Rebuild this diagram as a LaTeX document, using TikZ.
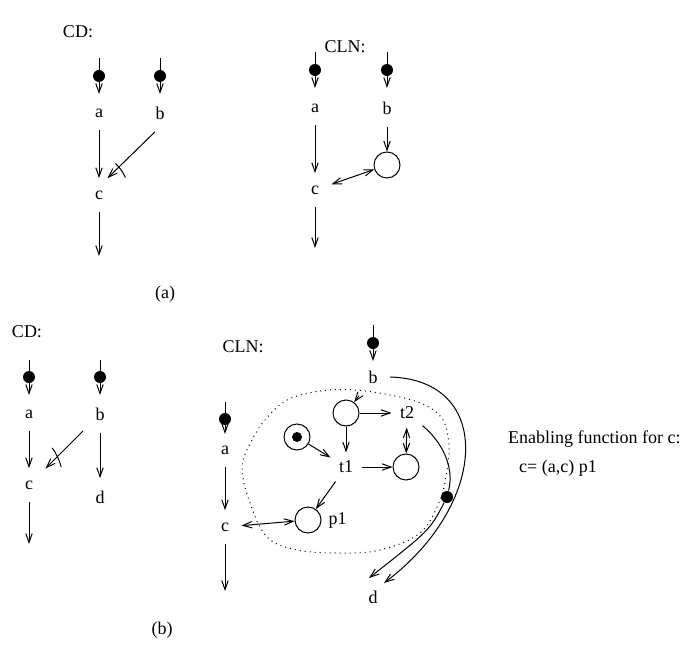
\documentclass[tikz,border=0pt]{standalone}
\usepackage{fontspec}
\setmainfont{Liberation Serif}
\usetikzlibrary{arrows.meta}
\usetikzlibrary{positioning}

\begin{document}
\begin{tikzpicture}[x=0.5pt,y=-0.5pt,>={Straight Barb[length=4.5pt,width=3.2pt]},line width=0.5pt,
  font=\fontsize{9}{10}\selectfont,
  lbl/.style={inner sep=6pt},
  trans/.style={inner sep=4pt},
  tok/.style={circle,fill,inner sep=0pt,minimum size=6pt},
  place/.style={circle,draw,inner sep=0pt,minimum size=13pt}]
\useasboundingbox (0,0) rectangle (688,657);
% (a) CD
\path node (cd1) at (78,32) {CD:};
\coordinate (ka0) at (99,58); \coordinate (ka1) at (99,94);
\coordinate (kb0) at (160,58); \coordinate (kb1) at (160,94);
\path[->,draw] (ka0) -- (ka1);
\path[->,draw] (kb0) -- (kb1);
\path node[tok] (ka) at (99,76) {};
\path node[tok] (kb) at (160,76) {};
\path node[lbl] (a1) at (99,113) {a};
\path node[lbl] (b1) at (160,113) {b};
\path node[lbl] (c1) at (99,195) {c};
\coordinate (ce1) at (99,256);
\path[->] (a1) edge (c1) (c1) edge (ce1);
\path[->,draw] ([xshift=-2.5pt]b1.south) -- coordinate[pos=.77] (x1) ([xshift=-4pt]c1.north east);
\draw (x1) ++(-3,-4) to[bend left=10] ++(10,14);
% (a) CLN
\path node (cln1) at (345,47) {CLN:};
\coordinate (la0) at (315,52); \coordinate (la1) at (315,88);
\coordinate (lb0) at (387,52); \coordinate (lb1) at (387,88);
\path[->,draw] (la0) -- (la1);
\path[->,draw] (lb0) -- (lb1);
\path node[tok] (la) at (315,70) {};
\path node[tok] (lb) at (387,70) {};
\path node[lbl] (a2) at (315,108) {a};
\path node[lbl] (b2) at (387,108) {b};
\path node[lbl] (c2) at (315,190) {c};
\path node[place] (q0) at (387,165) {};
\coordinate (ce2) at (315,248);
\path[->] (a2) edge (c2) (c2) edge (ce2) (b2) edge (q0);
\path[<->] (c2) edge (q0);
\path node (la-cap) at (165,294) {(a)};
% (b) CD
\path node (cd2) at (27,332) {CD:};
\coordinate (ma0) at (29,360); \coordinate (ma1) at (29,395);
\coordinate (mb0) at (100,360); \coordinate (mb1) at (100,395);
\path[->,draw] (ma0) -- (ma1);
\path[->,draw] (mb0) -- (mb1);
\path node[tok] (ma) at (29,377) {};
\path node[tok] (mb) at (100,377) {};
\path node[lbl] (a3) at (29,414) {a};
\path node[lbl] (b3) at (100,414) {b};
\path node[lbl] (c3) at (29,485) {c};
\path node[lbl] (d3) at (100,497) {d};
\coordinate (ce3) at (29,544);
\path[->] (a3) edge (c3) (c3) edge (ce3) (b3) edge (d3);
\path[->,draw] (b3) -- coordinate[pos=.69] (x3) (c3);
\draw (x3) ++(-5,-9) to[bend left=10] ++(9,19);
% (b) CLN
\path node (cln2) at (243,347) {CLN:};
\coordinate (na0) at (225,402); \coordinate (na1) at (225,434);
\coordinate (nb0) at (373,325); \coordinate (nb1) at (373,361);
\path[->,draw] (na0) -- (na1);
\path[->,draw] (nb0) -- (nb1);
\path node[tok] (na) at (225,419) {};
\path node[tok] (nb) at (373,343) {};
\path node[lbl] (a4) at (225,450) {a};
\path node[lbl] (b4) at (373,377) {b};
\path node[lbl] (c4) at (225,527) {c};
\coordinate (ce4) at (225,591);
\path node[place] (q1) at (346,413) {};
\path node[trans] (t2) at (407,413) {t2};
\path node[place] (m) at (297,437) {};
\path node[tok,minimum size=5pt] (m0) at (297,437) {};
\path node[trans] (t1) at (346,467) {t1};
\path node[place] (q2) at (406,467) {};
\path node[place,label=right:p1] (p1) at (308,520) {};
\path node[lbl] (d4) at (373,597) {d};
\path node[tok] (tk) at (447,497) {};
\coordinate (dl) at (369,578); \coordinate (dr) at (384,583);
\path[->] (a4) edge (c4) (c4) edge (ce4);
\path[->] (b4) edge (q1) (q1) edge (t2) (q1) edge (t1);
\path[->] (m) edge (t1) (t1) edge (q2) (t1) edge (p1);
\path[<->] (t2) edge (q2) (c4) edge (p1);
\draw[dotted] plot[smooth cycle,tension=.6] coordinates {(287,400) (320,391) (355,390) (395,396) (425,405) (443,420) (449,445) (447,470) (440,500) (420,533) (380,550) (340,553) (297,550) (267,537) (250,503) (242,467) (252,440) (265,420)};
\draw (t2) .. controls (440,440) and (455,465) .. (tk);
\draw[->] (tk) .. controls (430,530) .. (dl);
\draw[->] (b4.east) .. controls (495,380) and (488,505) .. (dr);
\path node[anchor=west] (ef1) at (501,439) {Enabling function for c:};
\path node[anchor=west] (ef2) at (512,468) {c= (a,c) p1};
\path node (lb-cap) at (162,630) {(b)};
\end{tikzpicture}
\end{document}
